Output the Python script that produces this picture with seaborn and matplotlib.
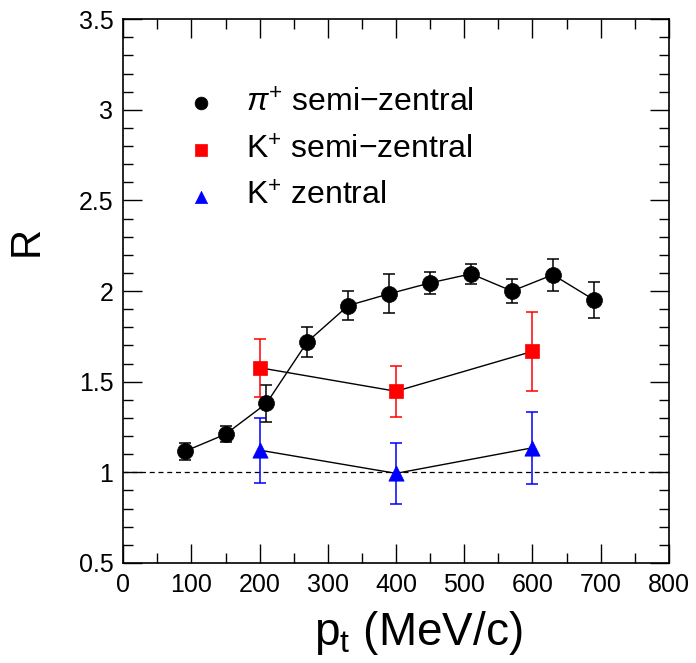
import numpy as np
import pandas as pd
import matplotlib
matplotlib.use("Agg")
import matplotlib.pyplot as plt
import seaborn as sns
from matplotlib.ticker import MultipleLocator

sns.set_theme(style="ticks")
plt.rcParams['font.family'] = ['Liberation Sans', 'DejaVu Sans']
plt.rcParams['mathtext.fontset'] = 'custom'
plt.rcParams['mathtext.rm'] = 'Liberation Sans'
plt.rcParams['mathtext.it'] = 'Liberation Sans:italic'
plt.rcParams['text.color'] = 'black'
plt.rcParams['axes.labelcolor'] = 'black'
plt.rcParams['xtick.color'] = 'black'
plt.rcParams['ytick.color'] = 'black'

# Data
pion_pt = [90, 150, 210, 270, 330, 390, 450, 510, 570, 630, 690]
pion_R = [1.115, 1.21, 1.38, 1.72, 1.92, 1.985, 2.045, 2.095, 2.0, 2.09, 1.952]
pion_err = [0.045, 0.045, 0.10, 0.083, 0.08, 0.108, 0.06, 0.055, 0.067, 0.087, 0.098]

kaon_semi_pt = [200, 400, 600]
kaon_semi_R = [1.577, 1.447, 1.667]
kaon_semi_err = [0.16, 0.14, 0.22]

kaon_zen_pt = [200, 400, 600]
kaon_zen_R = [1.122, 0.994, 1.135]
kaon_zen_err = [0.18, 0.17, 0.20]

labels = [r"$\pi^{+}$ semi$-$zentral", r"K$^{+}$ semi$-$zentral", r"K$^{+}$ zentral"]

fig = plt.figure(figsize=(6.96, 6.63), dpi=100)
ax = fig.add_axes([0.177, 0.151, 0.784, 0.820])

series = [
    (pion_pt, pion_R, pion_err, "black", "o", 11.5, labels[0]),
    (kaon_semi_pt, kaon_semi_R, kaon_semi_err, "red", "s", 10.5, labels[1]),
    (kaon_zen_pt, kaon_zen_R, kaon_zen_err, "blue", "^", 11, labels[2]),
]

ax.axhline(1.0, color="black", lw=0.9, ls=(0, (4, 3)), zorder=1)

handles = []
for x, y, e, c, m, ms, lab in series:
    df = pd.DataFrame({"pt": x, "R": y})
    sns.lineplot(data=df, x="pt", y="R", color="black", lw=1.0, ax=ax,
                 legend=False, zorder=2)
    ax.errorbar(x, y, yerr=e, fmt="none", ecolor=c, elinewidth=1.1,
                capsize=4.2, capthick=1.1, zorder=3)
    h = ax.scatter(x, y, marker=m, s=ms ** 2, color=c, edgecolors=c,
                   linewidths=0.5, zorder=4, label=lab)
    handles.append(h)

ax.set_xlim(0, 800)
ax.set_ylim(0.5, 3.5)
ax.xaxis.set_major_locator(MultipleLocator(100))
ax.xaxis.set_minor_locator(MultipleLocator(50))
ax.yaxis.set_major_locator(MultipleLocator(0.5))
ax.yaxis.set_minor_locator(MultipleLocator(0.1))
ax.set_yticks([0.5, 1, 1.5, 2, 2.5, 3, 3.5])
ax.set_yticklabels(["0.5", "1", "1.5", "2", "2.5", "3", "3.5"])
ax.tick_params(which="both", direction="in", top=True, right=True,
               labelsize=18, width=1.0, color="black", pad=7)
ax.tick_params(which="major", length=14)
ax.tick_params(which="minor", length=7)
for sp in ax.spines.values():
    sp.set_linewidth(1.2)
    sp.set_color("black")

ax.set_xlabel(r"p$_{\rm t}$ (MeV/c)", fontsize=33)
ax.xaxis.set_label_coords(0.54, -0.085)
ax.set_ylabel("R", fontsize=30)
ax.yaxis.set_label_coords(-0.14, 0.593)

leg = ax.legend(handles=handles, labels=labels, loc="upper left",
                bbox_to_anchor=(0.114, 0.872), frameon=False, fontsize=23,
                handlelength=1.0, handletextpad=0.9, borderpad=0,
                borderaxespad=0, labelspacing=0.52, markerscale=0.8)

fig.savefig("out.png", dpi=100)
